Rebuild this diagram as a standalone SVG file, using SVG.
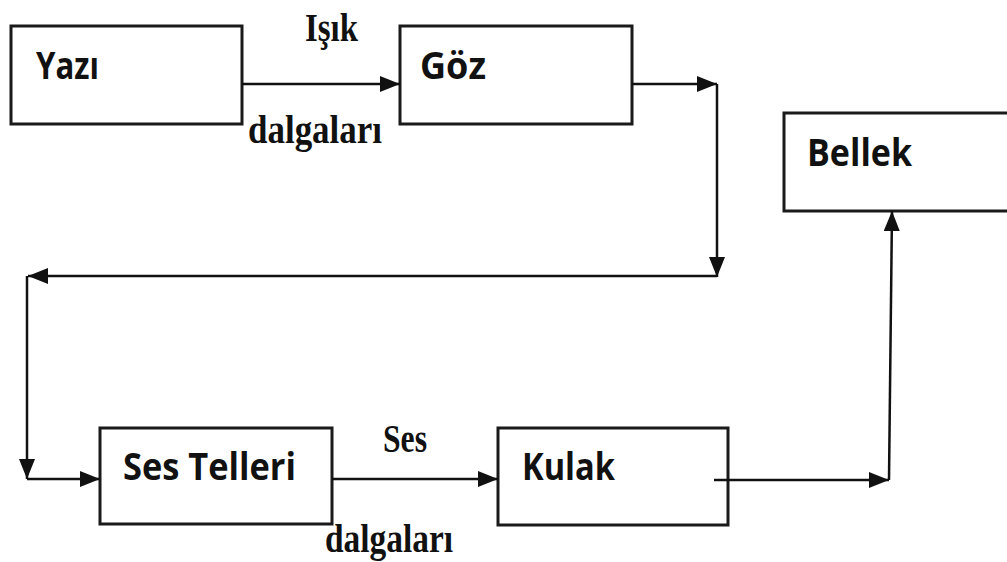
<svg xmlns="http://www.w3.org/2000/svg" width="1007" height="562" viewBox="0 0 1007 562">
<defs>
<style>
.box{fill:#fff;stroke:#1a1a1a;stroke-width:3}
.lbl{font-family:"Open Sans","Noto Sans",sans-serif;font-weight:bold;font-size:38px;fill:#111}
.edge{font-family:"Liberation Serif","Times New Roman",serif;font-weight:bold;font-size:40px;fill:#111}
.ln{fill:none;stroke:#111;stroke-width:2.5}
</style>
<marker id="ah" viewBox="0 0 20 16" refX="20" refY="8" markerWidth="20" markerHeight="16" markerUnits="userSpaceOnUse" orient="auto">
<path d="M0,0 L20,8 L0,16 Z" fill="#111"/>
</marker>
</defs>
<rect width="1007" height="562" fill="#fff"/>
<g id="yazi">
<rect class="box" x="11" y="26" width="231" height="98"/>
<text class="lbl" x="36" y="79" textLength="63" lengthAdjust="spacingAndGlyphs">Yazı</text>
</g>
<g id="goz">
<rect class="box" x="400" y="26" width="232" height="98"/>
<text class="lbl" x="420" y="79" textLength="66" lengthAdjust="spacingAndGlyphs">Göz</text>
</g>
<g id="bellek">
<rect class="box" x="784" y="113" width="230" height="98"/>
<text class="lbl" x="807" y="166" textLength="105" lengthAdjust="spacingAndGlyphs">Bellek</text>
</g>
<g id="ses-telleri">
<rect class="box" x="100" y="428" width="232" height="96"/>
<text class="lbl" x="123" y="480" textLength="173" lengthAdjust="spacingAndGlyphs">Ses Telleri</text>
</g>
<g id="kulak">
<rect class="box" x="498" y="428" width="230" height="97"/>
<text class="lbl" x="522" y="480" textLength="93" lengthAdjust="spacingAndGlyphs">Kulak</text>
</g>
<g id="connectors">
<line class="ln" x1="242" y1="84" x2="400" y2="84" marker-end="url(#ah)"/>
<line class="ln" x1="632" y1="84" x2="717" y2="84" marker-end="url(#ah)"/>
<line class="ln" x1="717" y1="84" x2="717" y2="277" marker-end="url(#ah)"/>
<line class="ln" x1="717" y1="276" x2="28" y2="276" marker-end="url(#ah)"/>
<line class="ln" x1="27" y1="276" x2="27" y2="479" marker-end="url(#ah)"/>
<line class="ln" x1="27" y1="479" x2="100" y2="479" marker-end="url(#ah)"/>
<line class="ln" x1="332" y1="479" x2="498" y2="479" marker-end="url(#ah)"/>
<line class="ln" x1="714" y1="480" x2="889" y2="480" marker-end="url(#ah)"/>
<line class="ln" x1="889" y1="480" x2="892" y2="211" marker-end="url(#ah)"/>
<text class="edge" x="305" y="41" textLength="53" lengthAdjust="spacingAndGlyphs">Işık</text>
<text class="edge" x="248" y="143" textLength="134" lengthAdjust="spacingAndGlyphs">dalgaları</text>
<text class="edge" x="383" y="452" textLength="44" lengthAdjust="spacingAndGlyphs">Ses</text>
<text class="edge" x="325" y="552" textLength="128" lengthAdjust="spacingAndGlyphs">dalgaları</text>
</g>
</svg>
